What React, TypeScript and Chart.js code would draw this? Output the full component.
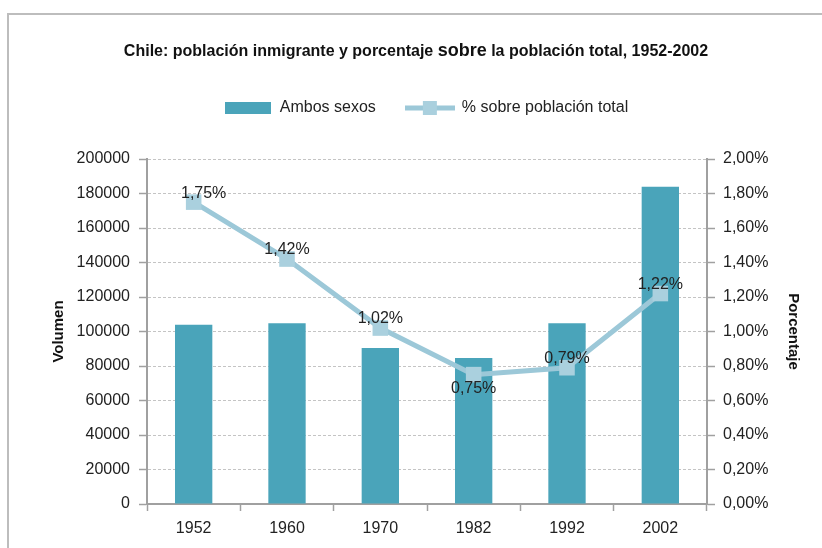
import React, { useEffect, useRef } from 'react';
import { Chart, registerables } from 'chart.js';

Chart.register(...registerables);

const years = ['1952', '1960', '1970', '1982', '1992', '2002'];
const ambosSexos = [103900, 104800, 90400, 84600, 104800, 183900];
const porcentaje = [1.75, 1.42, 1.02, 0.75, 0.79, 1.22];
const porcentajeLabels = ['1,75%', '1,42%', '1,02%', '0,75%', '0,79%', '1,22%'];
const labelSide = ['above', 'above', 'above', 'below', 'above', 'above'];
const titleParts = ['Chile: población inmigrante y porcentaje ', 'sobre', ' la población total, 1952-2002'];
const seriesNames = ['Ambos sexos', '% sobre población total'];
const axisTitles = ['Volumen', 'Porcentaje'];

const FONT = '"Liberation Sans", Arial, sans-serif';
const BAR = '#4aa4ba';
const LINE = '#9cc8d8';
const MARK = '#aad0de';
const AXIS = '#a0a0a0';
const GRID = '#c4c4c4';
const TEXT = '#222222';

export default function App() {
  const ref = useRef<HTMLCanvasElement>(null);

  useEffect(() => {
    const canvas = ref.current!;

    const barSwatch = document.createElement('canvas');
    barSwatch.width = 46;
    barSwatch.height = 12;
    const bctx = barSwatch.getContext('2d')!;
    bctx.fillStyle = BAR;
    bctx.fillRect(0, 0, 46, 12);

    const lineSwatch = document.createElement('canvas');
    lineSwatch.width = 50;
    lineSwatch.height = 14;
    const lctx = lineSwatch.getContext('2d')!;
    lctx.strokeStyle = LINE;
    lctx.lineWidth = 5;
    lctx.beginPath();
    lctx.moveTo(0, 7);
    lctx.lineTo(50, 7);
    lctx.stroke();
    lctx.fillStyle = MARK;
    lctx.fillRect(18, 0, 14, 14);

    const titlePlugin = {
      id: 'mixedTitle',
      afterDraw(chart: any) {
        const ctx = chart.ctx;
        ctx.save();
        const fonts = [`bold 16px ${FONT}`, `bold 18px ${FONT}`, `bold 16px ${FONT}`];
        const widths = titleParts.map((t, i) => {
          ctx.font = fonts[i];
          return ctx.measureText(t).width;
        });
        const total = widths.reduce((a, b) => a + b, 0);
        let x = 416 - total / 2;
        ctx.fillStyle = '#111';
        ctx.textBaseline = 'alphabetic';
        ctx.textAlign = 'left';
        titleParts.forEach((t, i) => {
          ctx.font = fonts[i];
          ctx.fillText(t, x, 56);
          x += widths[i];
        });
        ctx.restore();
      },
    };

    const legendGap = {
      id: 'legendGap',
      beforeInit(chart: any) {
        const orig = chart.legend.fit;
        chart.legend.fit = function () {
          orig.bind(chart.legend)();
          this.height += 33;
        };
      },
    };

    const labelPlugin = {
      id: 'pctLabels',
      afterDatasetsDraw(chart: any) {
        const ctx = chart.ctx;
        const meta = chart.getDatasetMeta(1);
        ctx.save();
        ctx.font = `16px ${FONT}`;
        ctx.fillStyle = TEXT;
        ctx.textAlign = 'center';
        ctx.textBaseline = 'middle';
        meta.data.forEach((pt: any, i: number) => {
          const dy = labelSide[i] === 'below' ? 14 : -9;
          ctx.fillText(porcentajeLabels[i], pt.x + (i === 0 ? 10 : 0), pt.y + dy);
        });
        ctx.restore();
      },
    };

    const chart = new Chart(canvas, {
      type: 'bar',
      data: {
        labels: years,
        datasets: [
          {
            type: 'bar',
            label: seriesNames[0],
            data: ambosSexos,
            backgroundColor: BAR,
            barPercentage: 0.4,
            categoryPercentage: 1,
            yAxisID: 'y',
            order: 2,
          },
          {
            type: 'line',
            label: seriesNames[1],
            data: porcentaje,
            borderColor: LINE,
            backgroundColor: MARK,
            borderWidth: 5,
            pointStyle: 'rect',
            pointRadius: 11,
            pointBackgroundColor: MARK,
            pointBorderWidth: 0,
            tension: 0,
            yAxisID: 'y1',
            order: 1,
          } as any,
        ],
      },
      options: {
        responsive: false,
        animation: false,
        layout: { padding: { top: 70, left: 46, right: 16, bottom: 0 } },
        plugins: {
          title: { display: false },
          tooltip: { enabled: false },
          legend: {
            display: true,
            position: 'top',
            labels: {
              usePointStyle: true,
              pointStyleWidth: 48,
              boxHeight: 12,
              padding: 30,
              color: TEXT,
              font: { family: FONT, size: 16 },
              generateLabels: (ch: any) => {
                const items = (Chart.defaults.plugins.legend.labels as any).generateLabels(ch);
                items.sort((a: any, b: any) => a.datasetIndex - b.datasetIndex);
                items.forEach((it: any) => {
                  it.pointStyle = it.datasetIndex === 0 ? barSwatch : lineSwatch;
                });
                return items;
              },
            },
          },
        },
        scales: {
          x: {
            offset: true,
            grid: {
              offset: true,
              drawOnChartArea: false,
              drawTicks: true,
              tickLength: 7,
              tickColor: AXIS,
              tickWidth: 1.5,
            },
            border: { color: AXIS, width: 2 },
            ticks: { color: TEXT, font: { family: FONT, size: 16 }, padding: 8 },
            afterFit: (s: any) => {
              s.height = 44;
            },
          },
          y: {
            position: 'left',
            min: 0,
            max: 200000,
            ticks: {
              stepSize: 20000,
              color: TEXT,
              font: { family: FONT, size: 16 },
              padding: 9,
              callback: (v: any) => String(v),
            },
            grid: {
              color: GRID,
              tickBorderDash: [],
              tickColor: AXIS,
              tickLength: 8,
              lineWidth: 1,
              tickWidth: 1.5,
            } as any,
            border: { color: AXIS, width: 2, dash: [3, 2] } as any,
            title: {
              display: true,
              text: axisTitles[0],
              color: '#111',
              font: { family: FONT, size: 15, weight: 'bold' },
              padding: 4,
            },
            afterFit: (s: any) => {
              s.width = 101;
            },
          },
          y1: {
            position: 'right',
            min: 0,
            max: 2,
            ticks: {
              stepSize: 0.2,
              color: TEXT,
              font: { family: FONT, size: 16 },
              padding: 8,
              callback: (v: any) => Number(v).toFixed(2).replace('.', ',') + '%',
            },
            grid: {
              drawOnChartArea: false,
              tickColor: AXIS,
              tickLength: 8,
              tickWidth: 1.5,
            },
            border: { color: AXIS, width: 2 },
            title: {
              display: true,
              text: axisTitles[1],
              color: '#111',
              font: { family: FONT, size: 15, weight: 'bold' },
              padding: 4,
            },
            afterFit: (s: any) => {
              s.width = 99;
            },
          },
        },
      },
      plugins: [titlePlugin, legendGap, labelPlugin],
    } as any);

    return () => chart.destroy();
  }, []);

  return (
    <div style={{ position: 'fixed', left: 0, top: 0, width: 822, height: 548, overflow: 'hidden', background: '#fff' }}>
      <div
        style={{
          position: 'absolute',
          left: 7,
          top: 13,
          width: 900,
          height: 700,
          borderLeft: '2px solid #bdbdbd',
          borderTop: '2px solid #bdbdbd',
        }}
      />
      <canvas ref={ref} width={822} height={548} style={{ position: 'absolute', left: 0, top: 0 }} />
    </div>
  );
}
